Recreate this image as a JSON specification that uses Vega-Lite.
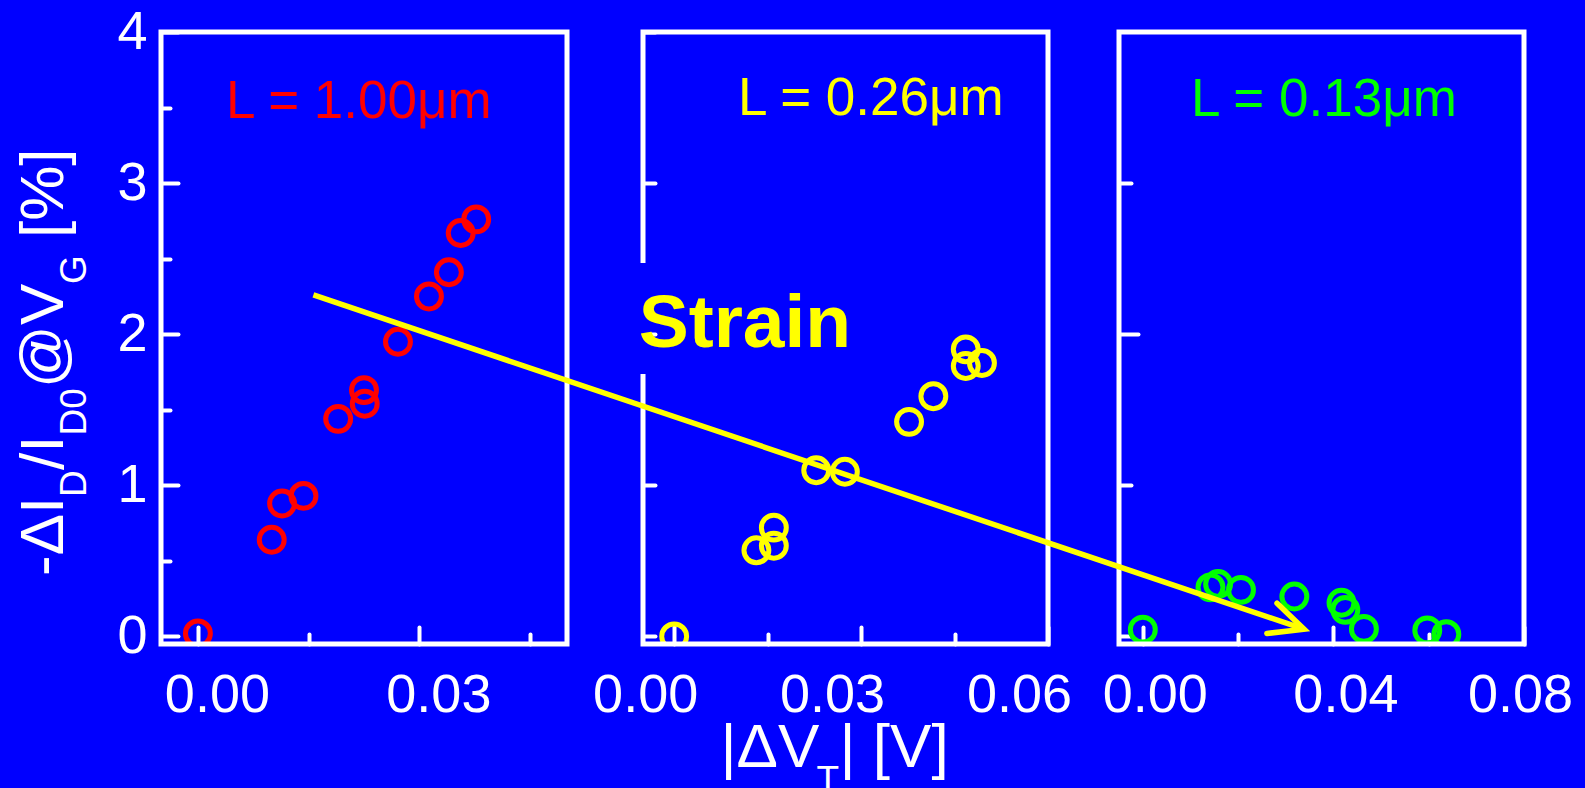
{
  "$schema": "https://vega.github.io/schema/vega-lite/v6.json",
  "width": 1363,
  "height": 612,
  "autosize": "none",
  "padding": {"left": 161, "top": 32, "right": 61, "bottom": 144},
  "background": "#0000FF",
  "config": {
    "view": {"stroke": null},
    "font": "Liberation Sans",
    "axis": {
      "domain": false,
      "grid": false,
      "labelColor": "white",
      "labelFont": "Liberation Sans",
      "labelFontSize": 54,
      "labelOverlap": false,
      "labelFlush": false,
      "labelBound": false,
      "tickColor": "white",
      "tickWidth": 4,
      "tickCap": "round"
    }
  },
  "datasets": {
    "one": [{"k": 1}],
    "p1": [
      {"dv": 0.0, "di": 0.02},
      {"dv": 0.0100, "di": 0.64},
      {"dv": 0.0114, "di": 0.88},
      {"dv": 0.0143, "di": 0.93},
      {"dv": 0.0190, "di": 1.44},
      {"dv": 0.0225, "di": 1.63},
      {"dv": 0.0226, "di": 1.54},
      {"dv": 0.0271, "di": 1.95},
      {"dv": 0.0313, "di": 2.25},
      {"dv": 0.0340, "di": 2.41},
      {"dv": 0.0356, "di": 2.67},
      {"dv": 0.0377, "di": 2.76}
    ],
    "p2": [
      {"dv": 0.0, "di": 0.0},
      {"dv": 0.0132, "di": 0.57},
      {"dv": 0.0160, "di": 0.60},
      {"dv": 0.0160, "di": 0.72},
      {"dv": 0.0228, "di": 1.10},
      {"dv": 0.0274, "di": 1.09},
      {"dv": 0.0377, "di": 1.42},
      {"dv": 0.0416, "di": 1.59},
      {"dv": 0.0468, "di": 1.90},
      {"dv": 0.0468, "di": 1.79},
      {"dv": 0.0494, "di": 1.81}
    ],
    "p3": [
      {"dv": 0.0, "di": 0.045},
      {"dv": 0.0142, "di": 0.325},
      {"dv": 0.0158, "di": 0.347},
      {"dv": 0.0206, "di": 0.308},
      {"dv": 0.0318, "di": 0.264},
      {"dv": 0.0417, "di": 0.223},
      {"dv": 0.0425, "di": 0.176},
      {"dv": 0.0464, "di": 0.050},
      {"dv": 0.0597, "di": 0.040},
      {"dv": 0.0637, "di": 0.015}
    ]
  },
  "layer": [
    {
      "layer": [
        {
          "data": {"name": "p1"},
          "mark": {"type": "point", "shape": "circle", "filled": false, "size": 620, "strokeWidth": 5, "color": "#FF0000", "opacity": 1, "clip": true},
          "encoding": {
            "x": {"field": "dv", "type": "quantitative", "title": null, "scale": {"domain": [-0.005, 0.05], "range": [0, 406], "nice": false, "zero": false}},
            "y": {"field": "di", "type": "quantitative", "title": null, "scale": {"domain": [-0.05, 4], "nice": false, "zero": false}}
          }
        },
        {
          "data": {"name": "one"},
          "mark": {"type": "rect", "fillOpacity": 0, "stroke": "white", "strokeWidth": 5},
          "encoding": {
            "x": {"datum": -0.005, "type": "quantitative", "title": null,
              "scale": {"domain": [-0.005, 0.05], "range": [0, 406], "nice": false, "zero": false},
              "axis": {"orient": "bottom", "values": [0, 0.015, 0.03, 0.045], "format": ".2f",
                "labelExpr": "(datum.value == 0 || datum.value == 0.03) ? datum.label : ''",
                "tickSize": {"condition": {"test": "datum.value == 0 || datum.value == 0.03", "value": -17}, "value": -10},
                "labelPadding": 41, "labelOffset": 19}},
            "x2": {"datum": 0.05},
            "y": {"datum": -0.05, "type": "quantitative", "title": null,
              "scale": {"domain": [-0.05, 4], "nice": false, "zero": false},
              "axis": {"orient": "left", "values": [0, 0.5, 1, 1.5, 2, 2.5, 3, 3.5, 4],
                "labelExpr": "datum.value % 1 == 0 ? format(datum.value, 'd') : ''",
                "tickSize": {"condition": {"test": "datum.value % 1 == 0", "value": -17}, "value": -9},
                "labelPadding": 31}},
            "y2": {"datum": 4}
          }
        },
        {
          "data": {"name": "one"},
          "mark": {"type": "text", "text": "L = 1.00μm", "color": "#FF0000", "fontSize": 53, "align": "center", "baseline": "alphabetic", "font": "Liberation Sans"},
          "encoding": {
            "x": {"datum": 0.0218, "type": "quantitative", "scale": {"domain": [-0.005, 0.05], "range": [0, 406], "nice": false, "zero": false}},
            "y": {"datum": 3.429, "type": "quantitative", "scale": {"domain": [-0.05, 4], "nice": false, "zero": false}}
          }
        },
        {
          "data": {"name": "one"},
          "mark": {"type": "text", "text": "-ΔI", "color": "white", "fontSize": 62, "angle": 270, "align": "left", "baseline": "alphabetic", "font": "Liberation Sans", "dx": 0, "dy": 0, "clip": false},
          "encoding": {
            "x": {"datum": -0.01824, "type": "quantitative", "scale": {"domain": [-0.005, 0.05], "range": [0, 406], "nice": false, "zero": false}},
            "y": {"datum": 0.4, "type": "quantitative", "scale": {"domain": [-0.05, 4], "nice": false, "zero": false}}
          }
        },
        {
          "data": {"name": "one"},
          "mark": {"type": "text", "text": "D", "color": "white", "fontSize": 37, "angle": 270, "align": "left", "baseline": "alphabetic", "font": "Liberation Sans", "dx": 79, "dy": 23, "clip": false},
          "encoding": {
            "x": {"datum": -0.01824, "type": "quantitative", "scale": {"domain": [-0.005, 0.05], "range": [0, 406], "nice": false, "zero": false}},
            "y": {"datum": 0.4, "type": "quantitative", "scale": {"domain": [-0.05, 4], "nice": false, "zero": false}}
          }
        },
        {
          "data": {"name": "one"},
          "mark": {"type": "text", "text": "/I", "color": "white", "fontSize": 62, "angle": 270, "align": "left", "baseline": "alphabetic", "font": "Liberation Sans", "dx": 106, "dy": 0, "clip": false},
          "encoding": {
            "x": {"datum": -0.01824, "type": "quantitative", "scale": {"domain": [-0.005, 0.05], "range": [0, 406], "nice": false, "zero": false}},
            "y": {"datum": 0.4, "type": "quantitative", "scale": {"domain": [-0.05, 4], "nice": false, "zero": false}}
          }
        },
        {
          "data": {"name": "one"},
          "mark": {"type": "text", "text": "D0", "color": "white", "fontSize": 37, "angle": 270, "align": "left", "baseline": "alphabetic", "font": "Liberation Sans", "dx": 140.5, "dy": 23, "clip": false},
          "encoding": {
            "x": {"datum": -0.01824, "type": "quantitative", "scale": {"domain": [-0.005, 0.05], "range": [0, 406], "nice": false, "zero": false}},
            "y": {"datum": 0.4, "type": "quantitative", "scale": {"domain": [-0.05, 4], "nice": false, "zero": false}}
          }
        },
        {
          "data": {"name": "one"},
          "mark": {"type": "text", "text": "@V", "color": "white", "fontSize": 62, "angle": 270, "align": "left", "baseline": "alphabetic", "font": "Liberation Sans", "dx": 188, "dy": 0, "clip": false},
          "encoding": {
            "x": {"datum": -0.01824, "type": "quantitative", "scale": {"domain": [-0.005, 0.05], "range": [0, 406], "nice": false, "zero": false}},
            "y": {"datum": 0.4, "type": "quantitative", "scale": {"domain": [-0.05, 4], "nice": false, "zero": false}}
          }
        },
        {
          "data": {"name": "one"},
          "mark": {"type": "text", "text": "G", "color": "white", "fontSize": 37, "angle": 270, "align": "left", "baseline": "alphabetic", "font": "Liberation Sans", "dx": 292, "dy": 23, "clip": false},
          "encoding": {
            "x": {"datum": -0.01824, "type": "quantitative", "scale": {"domain": [-0.005, 0.05], "range": [0, 406], "nice": false, "zero": false}},
            "y": {"datum": 0.4, "type": "quantitative", "scale": {"domain": [-0.05, 4], "nice": false, "zero": false}}
          }
        },
        {
          "data": {"name": "one"},
          "mark": {"type": "text", "text": "[%]", "color": "white", "fontSize": 62, "angle": 270, "align": "left", "baseline": "alphabetic", "font": "Liberation Sans", "dx": 338, "dy": 0, "clip": false},
          "encoding": {
            "x": {"datum": -0.01824, "type": "quantitative", "scale": {"domain": [-0.005, 0.05], "range": [0, 406], "nice": false, "zero": false}},
            "y": {"datum": 0.4, "type": "quantitative", "scale": {"domain": [-0.05, 4], "nice": false, "zero": false}}
          }
        }
      ]
    },
    {
      "layer": [
        {
          "data": {"name": "p2"},
          "mark": {"type": "point", "shape": "circle", "filled": false, "size": 620, "strokeWidth": 5, "color": "#FFFF00", "opacity": 1, "clip": true},
          "encoding": {
            "x": {"field": "dv", "type": "quantitative", "title": null, "scale": {"domain": [-0.005, 0.06], "range": [482, 887], "nice": false, "zero": false}},
            "y": {"field": "di", "type": "quantitative", "title": null, "scale": {"domain": [-0.05, 4], "nice": false, "zero": false}}
          }
        },
        {
          "data": {"name": "one"},
          "mark": {"type": "rect", "fillOpacity": 0, "stroke": "white", "strokeWidth": 5},
          "encoding": {
            "x": {"datum": -0.005, "type": "quantitative", "title": null,
              "scale": {"domain": [-0.005, 0.06], "range": [482, 887], "nice": false, "zero": false},
              "axis": {"orient": "bottom", "values": [0, 0.015, 0.03, 0.045, 0.06], "format": ".2f",
                "labelExpr": "(datum.value == 0 || datum.value == 0.03 || datum.value == 0.06) ? datum.label : ''",
                "tickSize": {"condition": {"test": "datum.value == 0 || datum.value == 0.03 || datum.value == 0.06", "value": -17}, "value": -10},
                "labelPadding": 41, "labelOffset": -29}},
            "x2": {"datum": 0.06},
            "y": {"datum": -0.05, "type": "quantitative", "title": null,
              "scale": {"domain": [-0.05, 4], "nice": false, "zero": false},
              "axis": {"orient": "left", "offset": -482, "values": [0, 1, 2, 3, 4], "labels": false, "tickSize": -12}},
            "y2": {"datum": 4}
          }
        },
        {
          "data": {"name": "one"},
          "mark": {"type": "rect", "fill": "#0000FF", "stroke": null},
          "encoding": {
            "x": {"datum": -0.0062, "type": "quantitative", "scale": {"domain": [-0.005, 0.06], "range": [482, 887], "nice": false, "zero": false}},
            "x2": {"datum": -0.0038},
            "y": {"datum": 1.737, "type": "quantitative", "scale": {"domain": [-0.05, 4], "nice": false, "zero": false}},
            "y2": {"datum": 2.471}
          }
        },
        {
          "data": {"name": "one"},
          "mark": {"type": "text", "text": "L = 0.26μm", "color": "#FFFF00", "fontSize": 53, "align": "center", "baseline": "alphabetic", "font": "Liberation Sans"},
          "encoding": {
            "x": {"datum": 0.03156, "type": "quantitative", "scale": {"domain": [-0.005, 0.06], "range": [482, 887], "nice": false, "zero": false}},
            "y": {"datum": 3.451, "type": "quantitative", "scale": {"domain": [-0.05, 4], "nice": false, "zero": false}}
          }
        },
        {
          "data": {"name": "one"},
          "mark": {"type": "text", "text": "Strain", "color": "#FFFF00", "fontSize": 75, "fontWeight": "bold", "align": "left", "baseline": "alphabetic", "font": "Liberation Sans"},
          "encoding": {
            "x": {"datum": -0.0057, "type": "quantitative", "scale": {"domain": [-0.005, 0.06], "range": [482, 887], "nice": false, "zero": false}},
            "y": {"datum": 1.917, "type": "quantitative", "scale": {"domain": [-0.05, 4], "nice": false, "zero": false}}
          }
        }
      ]
    },
    {
      "layer": [
        {
          "data": {"name": "p3"},
          "mark": {"type": "point", "shape": "circle", "filled": false, "size": 620, "strokeWidth": 5, "color": "#00FF00", "opacity": 1, "clip": true},
          "encoding": {
            "x": {"field": "dv", "type": "quantitative", "title": null, "scale": {"domain": [-0.005, 0.08], "range": [958, 1363], "nice": false, "zero": false}},
            "y": {"field": "di", "type": "quantitative", "title": null, "scale": {"domain": [-0.05, 4], "nice": false, "zero": false}}
          }
        },
        {
          "data": {"name": "one"},
          "mark": {"type": "rect", "fillOpacity": 0, "stroke": "white", "strokeWidth": 5},
          "encoding": {
            "x": {"datum": -0.005, "type": "quantitative", "title": null,
              "scale": {"domain": [-0.005, 0.08], "range": [958, 1363], "nice": false, "zero": false},
              "axis": {"orient": "bottom", "values": [0, 0.02, 0.04, 0.06, 0.08], "format": ".2f",
                "labelExpr": "(datum.value == 0 || datum.value == 0.04 || datum.value == 0.08) ? datum.label : ''",
                "tickSize": {"condition": {"test": "datum.value == 0 || datum.value == 0.04 || datum.value == 0.08", "value": -17}, "value": -10},
                "labelPadding": 41,
                "labelOffset": {"condition": {"test": "datum.value == 0.08", "value": -4}, "value": 12}}},
            "x2": {"datum": 0.08},
            "y": {"datum": -0.05, "type": "quantitative", "title": null,
              "scale": {"domain": [-0.05, 4], "nice": false, "zero": false},
              "axis": {"orient": "left", "offset": -958, "values": [0, 1, 2, 3], "labels": false,
                "tickSize": {"condition": {"test": "datum.value == 2", "value": -19}, "value": -12}}},
            "y2": {"datum": 4}
          }
        },
        {
          "data": {"name": "one"},
          "mark": {"type": "text", "text": "L = 0.13μm", "color": "#00FF00", "fontSize": 53, "align": "center", "baseline": "alphabetic", "font": "Liberation Sans"},
          "encoding": {
            "x": {"datum": 0.03802, "type": "quantitative", "scale": {"domain": [-0.005, 0.08], "range": [958, 1363], "nice": false, "zero": false}},
            "y": {"datum": 3.447, "type": "quantitative", "scale": {"domain": [-0.05, 4], "nice": false, "zero": false}}
          }
        }
      ]
    },
    {
      "layer": [
        {
          "data": {"name": "one"},
          "mark": {"type": "rule", "color": "#FFFF00", "strokeWidth": 5.5, "strokeCap": "butt"},
          "encoding": {
            "x": {"datum": -0.0579, "type": "quantitative", "axis": null, "scale": {"domain": [-0.005, 0.06], "range": [482, 887], "nice": false, "zero": false}},
            "x2": {"datum": 0.1011},
            "y": {"datum": 2.26, "type": "quantitative", "axis": null, "scale": {"domain": [-0.05, 4], "nice": false, "zero": false}},
            "y2": {"datum": 0.048}
          }
        },
        {
          "data": {"name": "one"},
          "mark": {"type": "point", "shape": "M-1,-0.47L0,0L-1,0.47", "filled": false, "size": 4600, "angle": 18.6, "stroke": "#FFFF00", "strokeWidth": 5.5, "strokeCap": "round", "strokeJoin": "miter", "opacity": 1},
          "encoding": {
            "x": {"datum": 0.1011, "type": "quantitative", "axis": null, "scale": {"domain": [-0.005, 0.06], "range": [482, 887], "nice": false, "zero": false}},
            "y": {"datum": 0.048, "type": "quantitative", "axis": null, "scale": {"domain": [-0.05, 4], "nice": false, "zero": false}}
          }
        },
        {
          "data": {"name": "one"},
          "mark": {"type": "text", "text": "|ΔV", "color": "white", "fontSize": 62, "align": "left", "baseline": "alphabetic", "font": "Liberation Sans", "dx": 0, "dy": 0},
          "encoding": {
            "x": {"datum": 0.00744, "type": "quantitative", "axis": null, "scale": {"domain": [-0.005, 0.06], "range": [482, 887], "nice": false, "zero": false}},
            "y": {"datum": -0.862, "type": "quantitative", "axis": null, "scale": {"domain": [-0.05, 4], "nice": false, "zero": false}}
          }
        },
        {
          "data": {"name": "one"},
          "mark": {"type": "text", "text": "T", "color": "white", "fontSize": 37, "align": "left", "baseline": "alphabetic", "font": "Liberation Sans", "dx": 96, "dy": 25},
          "encoding": {
            "x": {"datum": 0.00744, "type": "quantitative", "axis": null, "scale": {"domain": [-0.005, 0.06], "range": [482, 887], "nice": false, "zero": false}},
            "y": {"datum": -0.862, "type": "quantitative", "axis": null, "scale": {"domain": [-0.05, 4], "nice": false, "zero": false}}
          }
        },
        {
          "data": {"name": "one"},
          "mark": {"type": "text", "text": "| [V]", "color": "white", "fontSize": 62, "align": "left", "baseline": "alphabetic", "font": "Liberation Sans", "dx": 119, "dy": 0},
          "encoding": {
            "x": {"datum": 0.00744, "type": "quantitative", "axis": null, "scale": {"domain": [-0.005, 0.06], "range": [482, 887], "nice": false, "zero": false}},
            "y": {"datum": -0.862, "type": "quantitative", "axis": null, "scale": {"domain": [-0.05, 4], "nice": false, "zero": false}}
          }
        }
      ]
    }
  ],
  "resolve": {"scale": {"x": "independent"}, "axis": {"x": "independent", "y": "independent"}}
}
